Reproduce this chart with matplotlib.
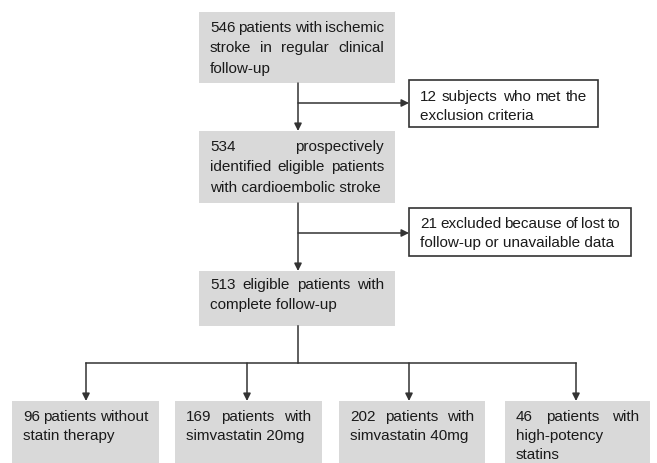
import matplotlib.pyplot as plt
from matplotlib.patches import Rectangle

# box texts, one entry per line
main_boxes = [
    ["546 patients with ischemic", "stroke in regular clinical", "follow-up"],
    ["534 prospectively", "identified eligible patients", "with cardioembolic stroke"],
    ["513 eligible patients with", "complete follow-up"],
]
excluded_boxes = [
    ["12 subjects who met the", "exclusion criteria"],
    ["21 excluded because of lost to", "follow-up or unavailable data"],
]
group_boxes = [
    ["96 patients without", "statin therapy"],
    ["169 patients with", "simvastatin 20mg"],
    ["202 patients with", "simvastatin 40mg"],
    ["46 patients with", "high-potency", "statins"],
]

FONT = dict(family=["Liberation Sans", "DejaVu Sans"], size=11, color="#1a1a1a")
GREY = "#d9d9d9"
LINE = "#333333"

fig = plt.figure(figsize=(6.57, 4.63), dpi=100)
ax = fig.add_axes([0, 0, 1, 1])
ax.set_xlim(0, 657)
ax.set_ylim(463, 0)
ax.axis("off")
renderer = fig.canvas.get_renderer()


def word_width(w):
    t = ax.text(0, 0, w, **FONT)
    bb = t.get_window_extent(renderer)
    t.remove()
    return bb.width


def draw_text(lines, x0, x1, y0, step=20):
    # justified text, last line left aligned
    for i, line in enumerate(lines):
        y = int(y0 + i * step)  # whole pixels so the words of a line stay level
        words = line.split()
        if i == len(lines) - 1 or len(words) == 1:
            ax.text(x0, y, line, va="baseline", ha="left", **FONT)
            continue
        widths = [word_width(w) for w in words]
        gap = (x1 - x0 - sum(widths)) / (len(words) - 1)
        x = x0
        for w, wd in zip(words, widths):
            ax.text(x, y, w, va="baseline", ha="left", **FONT)
            x += wd + gap


def box(x0, x1, y0, y1, lines, base, fill=True, step=20):
    if fill:
        ax.add_patch(Rectangle((x0, y0), x1 - x0, y1 - y0, facecolor=GREY, edgecolor="none"))
    else:
        ax.add_patch(Rectangle((x0, y0), x1 - x0, y1 - y0, facecolor="white",
                               edgecolor=LINE, lw=1.2))
    draw_text(lines, x0 + 11, x1 - 11, base, step)


def arrow(x0, y0, x1, y1):
    ax.annotate("", xy=(x1, y1), xytext=(x0, y0),
                arrowprops=dict(arrowstyle="-|>", color=LINE, lw=1.1,
                                mutation_scale=11, shrinkA=0, shrinkB=0))


# main column
box(199, 395, 12, 83, main_boxes[0], 32, step=20.5)
box(199, 395, 131, 203, main_boxes[1], 151, step=20.5)
box(199, 395, 271, 326, main_boxes[2], 289)

# excluded boxes
box(409, 598, 80, 127, excluded_boxes[0], 101, fill=False, step=19.5)
box(409, 631, 208, 256, excluded_boxes[1], 228, fill=False, step=19.5)

# bottom groups
group_x = [(12, 159), (175, 322), (339, 485), (505, 650)]
for (x0, x1), lines in zip(group_x, group_boxes):
    box(x0, x1, 401, 470, lines, 421, step=19)

# connectors
arrow(298, 83, 298, 131)
arrow(298, 103, 409, 103)
arrow(298, 203, 298, 271)
arrow(298, 233, 409, 233)
ax.plot([298, 298], [326, 363], color=LINE, lw=1.1)
ax.plot([86, 576], [363, 363], color=LINE, lw=1.1)
for x in [86, 247, 409, 576]:
    arrow(x, 363, x, 401)

fig.savefig("out.png", dpi=100)
